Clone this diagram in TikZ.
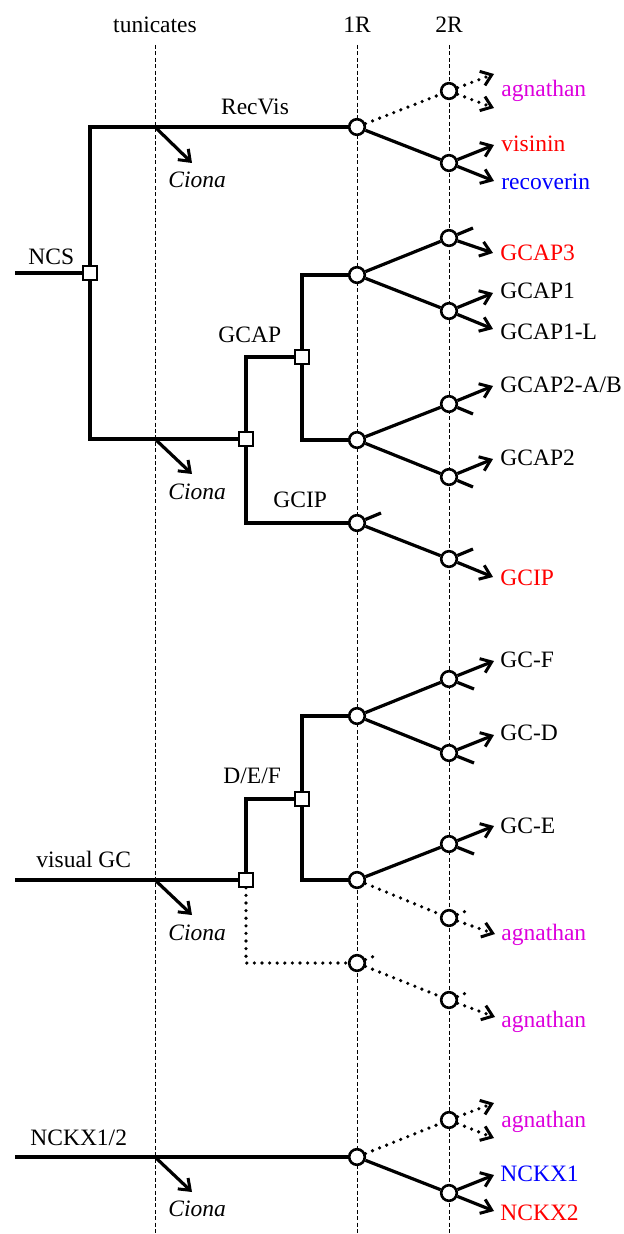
\documentclass[tikz,border=0pt]{standalone}
\usepackage{fontspec}
\setmainfont{Liberation Serif}
\usetikzlibrary{arrows.meta}
\definecolor{agn}{RGB}{221,0,221}
\begin{document}
\begin{tikzpicture}[x=0.5pt,y=-0.5pt,
  every node/.style={font=\fontsize{11.75}{14}\selectfont},
  ln/.style={line width=1.6pt},
  dt/.style={line width=1.8pt, line cap=round, dash pattern=on 0pt off 3.8pt},
  ar/.style={-{Straight Barb[length=5pt,width=7.5pt,line width=1.5pt]}},
  circ/.style={circle, draw, line width=1.3pt, fill=white, minimum size=7.8pt, inner sep=0pt},
  sq/.style={rectangle, draw, line width=1pt, fill=white, minimum size=6.8pt, inner sep=0pt},
  vl/.style={line width=0.5pt, dash pattern=on 2pt off 1.2pt},
  lbl/.style={anchor=base west, inner sep=0pt},
  hd/.style={anchor=base, inner sep=0pt}]
\useasboundingbox (0,0) rectangle (624,1234);

% headers and time lines
\node[hd] (htun) at (155,33) {tunicates};
\node[hd] (h1R) at (357,33) {1R};
\node[hd] (h2R) at (449,33) {2R};
\coordinate (tunB) at (155,1234);
\coordinate (oneB) at (357,1234);
\coordinate (twoB) at (449,1234);
\draw[vl] (155,45) -- (tunB);
\draw[vl] (357,45) -- (oneB);
\draw[vl] (449,45) -- (twoB);

% squares
\node[sq] (sNCS) at (90,273) {};
\node[sq] (sG) at (246,439) {};
\node[sq] (sGCAP) at (302,357) {};
\node[sq] (sV) at (246,880) {};
\node[sq] (sDEF) at (302,799) {};

% 1R circles
\node[circ] (r1) at (357,127) {};
\node[circ] (g1) at (357,275) {};
\node[circ] (g2) at (357,440) {};
\node[circ] (gi1) at (357,523) {};
\node[circ] (d1) at (357,716) {};
\node[circ] (d2) at (357,880) {};
\node[circ] (d3) at (357,963) {};
\node[circ] (n1) at (357,1157) {};

% 2R circles
\node[circ] (ra) at (449,91) {};
\node[circ] (rv) at (449,163) {};
\node[circ] (c3) at (449,238) {};
\node[circ] (c1) at (449,311) {};
\node[circ] (c2ab) at (449,404) {};
\node[circ] (c2) at (449,477) {};
\node[circ] (gi2) at (449,559) {};
\node[circ] (gf) at (449,679) {};
\node[circ] (gd) at (449,753) {};
\node[circ] (ge) at (449,844) {};
\node[circ] (da) at (449,918) {};
\node[circ] (db) at (449,1000) {};
\node[circ] (na) at (449,1120) {};
\node[circ] (nx) at (449,1193) {};

% free ends
\coordinate (ncsL) at (15,273);
\coordinate (visL) at (15,880);
\coordinate (nckL) at (15,1157);
\coordinate (ci1a) at (155,127); \coordinate (ci1b) at (192,163);
\coordinate (ci2a) at (155,439); \coordinate (ci2b) at (192,474);
\coordinate (ci3a) at (155,880); \coordinate (ci3b) at (192,915);
\coordinate (ci4a) at (155,1157); \coordinate (ci4b) at (192,1192);

% NCS tree
\draw[ln] (ncsL) -- (sNCS);
\draw[ln] (sNCS.north) |- (r1);
\draw[ln] (sNCS.south) |- (sG);
\draw[ln] (sG.north) |- (sGCAP);
\draw[ln] (sG.south) |- (gi1);
\draw[ln] (sGCAP.north) |- (g1);
\draw[ln] (sGCAP.south) |- (g2);
\draw[ln,ar] (ci1a) -- (ci1b);
\draw[ln,ar] (ci2a) -- (ci2b);

\draw[dt] (r1) -- (ra);
\draw[ln] (r1) -- (rv);
\draw[dt,ar] (ra) -- (494,74) coordinate (ra1);
\draw[dt,ar] (ra) -- (494,108) coordinate (ra2);
\draw[ln,ar] (rv) -- (494,145) coordinate (rv1);
\draw[ln,ar] (rv) -- (494,181) coordinate (rv2);

\draw[ln] (g1) -- (c3);
\draw[ln] (g1) -- (c1);
\draw[ln] (c3) -- (473,228) coordinate (c3s);
\draw[ln,ar] (c3) -- (493,253) coordinate (c3a);
\draw[ln,ar] (c1) -- (493,293) coordinate (c1a);
\draw[ln,ar] (c1) -- (493,329) coordinate (c1b);

\draw[ln] (g2) -- (c2ab);
\draw[ln] (g2) -- (c2);
\draw[ln,ar] (c2ab) -- (493,386) coordinate (c2aba);
\draw[ln] (c2ab) -- (473,414) coordinate (c2abs);
\draw[ln,ar] (c2) -- (493,459) coordinate (c2a);
\draw[ln] (c2) -- (473,487) coordinate (c2s);

\draw[ln] (gi1) -- (381,513) coordinate (gi1s);
\draw[ln] (gi1) -- (gi2);
\draw[ln] (gi2) -- (473,549) coordinate (gi2s);
\draw[ln,ar] (gi2) -- (493,577) coordinate (gi2a);

% visual GC tree
\draw[ln] (visL) -- (sV);
\draw[ln] (sV.north) |- (sDEF);
\draw[dt] (sV.south) |- (d3);
\draw[ln] (sDEF.north) |- (d1);
\draw[ln] (sDEF.south) |- (d2);
\draw[ln,ar] (ci3a) -- (ci3b);

\draw[ln] (d1) -- (gf);
\draw[ln] (d1) -- (gd);
\draw[ln,ar] (gf) -- (494,661) coordinate (gfa);
\draw[ln] (gf) -- (474,689) coordinate (gfs);
\draw[ln,ar] (gd) -- (494,735) coordinate (gda);
\draw[ln] (gd) -- (474,763) coordinate (gds);

\draw[ln] (d2) -- (ge);
\draw[dt] (d2) -- (da);
\draw[ln,ar] (ge) -- (494,826) coordinate (gea);
\draw[ln] (ge) -- (474,854) coordinate (ges);
\draw[dt] (da) -- (471,909) coordinate (das);
\draw[dt,ar] (da) -- (495,934) coordinate (daa);

\draw[dt] (d3) -- (377,955) coordinate (d3s);
\draw[dt] (d3) -- (db);
\draw[dt] (db) -- (471,991) coordinate (dbs);
\draw[dt,ar] (db) -- (495,1017) coordinate (dba);

% NCKX tree
\draw[ln] (nckL) -- (n1);
\draw[ln,ar] (ci4a) -- (ci4b);
\draw[dt] (n1) -- (na);
\draw[ln] (n1) -- (nx);
\draw[dt,ar] (na) -- (494,1103) coordinate (na1);
\draw[dt,ar] (na) -- (494,1138) coordinate (na2);
\draw[ln,ar] (nx) -- (494,1175) coordinate (nx1);
\draw[ln,ar] (nx) -- (494,1211) coordinate (nx2);

% labels
\node[hd] (lRecVis) at (255,115) {RecVis};
\node[lbl] (lNCS) at (28,265) {NCS};
\node[lbl] (lGCAP) at (218,343) {GCAP};
\node[lbl] (lGCIP) at (273,508) {GCIP};
\node[lbl] (lDEF) at (223,783) {D/E/F};
\node[lbl] (lvis) at (36,867) {visual GC};
\node[lbl] (lnck) at (30,1145) {NCKX1/2};
\node[lbl] (ciona1) at (168,188) {\itshape Ciona};
\node[lbl] (ciona2) at (168,499) {\itshape Ciona};
\node[lbl] (ciona3) at (168,940) {\itshape Ciona};
\node[lbl] (ciona4) at (168,1216) {\itshape Ciona};

\node[lbl,text=agn] (t1) at (501,97) {agnathan};
\node[lbl,text=red] (t2) at (501,152) {visinin};
\node[lbl,text=blue] (t3) at (501,190) {recoverin};
\node[lbl,text=red] (t4) at (500,261) {GCAP3};
\node[lbl] (t5) at (500,299) {GCAP1};
\node[lbl] (t6) at (500,340) {GCAP1-L};
\node[lbl] (t7) at (500,393) {GCAP2-A/B};
\node[lbl] (t8) at (500,466) {GCAP2};
\node[lbl,text=red] (t9) at (500,585) {GCIP};
\node[lbl] (t10) at (500,667) {GC-F};
\node[lbl] (t11) at (500,740) {GC-D};
\node[lbl] (t12) at (500,833) {GC-E};
\node[lbl,text=agn] (t13) at (501,940) {agnathan};
\node[lbl,text=agn] (t14) at (501,1027) {agnathan};
\node[lbl,text=agn] (t15) at (501,1127) {agnathan};
\node[lbl,text=blue] (t16) at (500,1181) {NCKX1};
\node[lbl,text=red] (t17) at (500,1220) {NCKX2};
\end{tikzpicture}
\end{document}
